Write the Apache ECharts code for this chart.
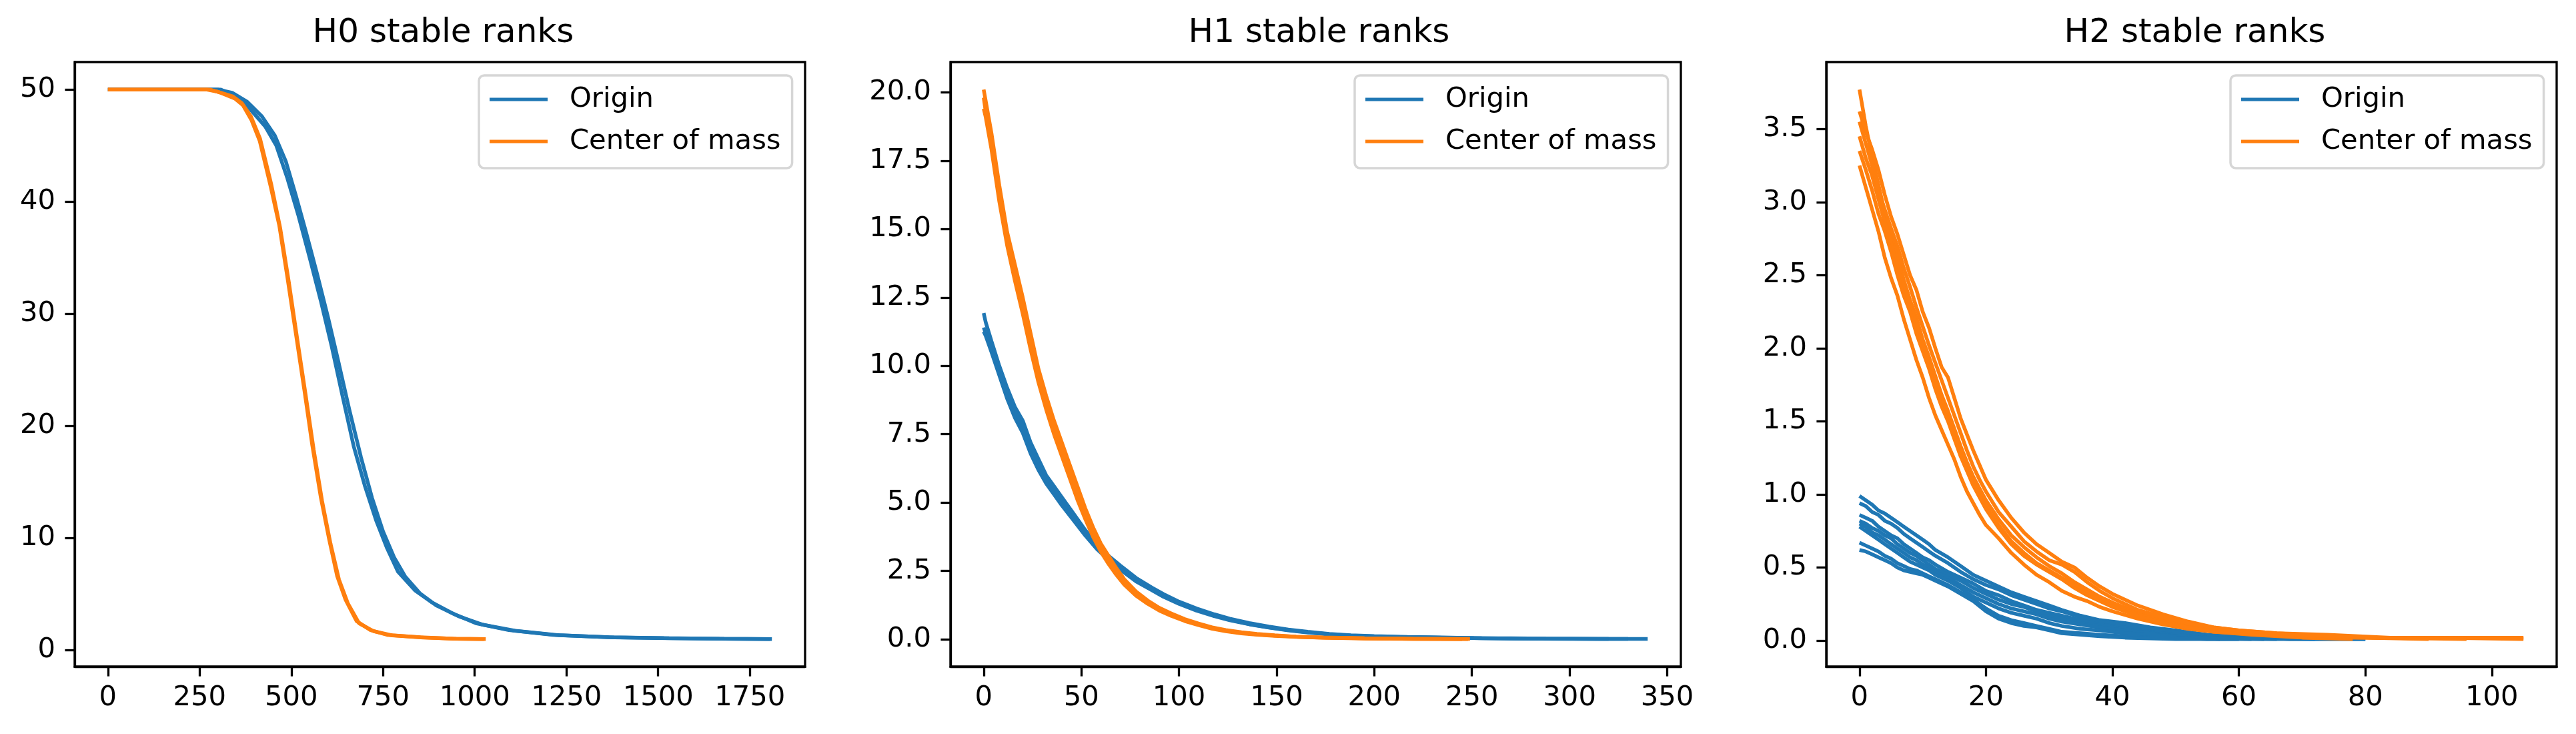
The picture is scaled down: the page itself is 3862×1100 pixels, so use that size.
<!DOCTYPE html>
<html>
<head>
<meta charset="utf-8">
<script src="https://cdn.jsdelivr.net/npm/echarts@6/dist/echarts.min.js"></script>
<style>
html,body{margin:0;padding:0;background:#fff;}
#chart{width:3862px;height:1100px;}
</style>
</head>
<body>
<div id="chart"></div>
<script>
// ---------- labels ----------
const panelTitles = ['H0 stable ranks', 'H1 stable ranks', 'H2 stable ranks'];
const seriesNames = ['Origin', 'Center of mass'];

// ---------- tick values ----------
const h0XTicks = [0, 250, 500, 750, 1000, 1250, 1500, 1750];
const h0YTicks = [0, 10, 20, 30, 40, 50];
const h1XTicks = [0, 50, 100, 150, 200, 250, 300, 350];
const h1YTicks = [0, 2.5, 5, 7.5, 10, 12.5, 15, 17.5, 20];
const h2XTicks = [0, 20, 40, 60, 80, 100];
const h2YTicks = [0, 0.5, 1, 1.5, 2, 2.5, 3, 3.5];

// ---------- H0 runs ----------
const h0Origin1 = [[0,50],[100,50],[200,50],[308,50],[346,49.4],[384,48.4],[429,46.7],[459,45.0],[489,42.1],[519,38.8],[550,35.0],[580,31.2],[610,27.1],[640,22.6],[670,18.2],[701,14.6],[731,11.6],[761,9.1],[791,7.0],[837,5.35],[882,4.3],[942,3.26],[1003,2.42],[1093,1.8],[1214,1.38],[1365,1.17],[1516,1.09],[1667,1.04],[1810,1.0]];
const h0Origin2 = [[0,50],[100,50],[200,50],[300,50],[340,49.7],[380,48.9],[420,47.6],[455,45.9],[485,43.6],[512,40.6],[540,37.3],[570,33.6],[600,29.7],[630,25.5],[660,21.2],[690,17.2],[720,13.6],[750,10.6],[780,8.3],[810,6.6],[850,5.1],[895,4.0],[955,3.05],[1020,2.3],[1110,1.75],[1230,1.35],[1380,1.15],[1530,1.08],[1680,1.03],[1805,1.0]];
const h0Mass1 = [[0,50],[100,50],[200,50],[278,50],[308,49.7],[346,49.2],[368,48.6],[391,47.3],[414,45.4],[444,41.3],[467,37.9],[489,33.3],[512,28.3],[535,23.3],[557,18.3],[580,13.7],[603,9.9],[625,6.6],[648,4.5],[678,2.6],[716,1.8],[761,1.38],[852,1.17],[942,1.04],[1030,1.0]];
const h0Mass2 = [[0,50],[150,50],[270,50],[300,49.8],[340,49.4],[365,48.8],[390,47.6],[415,45.6],[445,41.6],[470,37.6],[493,32.9],[516,27.8],[539,22.8],[561,17.9],[584,13.3],[607,9.5],[630,6.3],[654,4.2],[685,2.4],[725,1.7],[775,1.33],[860,1.14],[950,1.03],[1025,1.0]];

// ---------- H1 runs ----------
const h1Origin1 = [[0,11.93],[1,11.6],[4,10.9],[8,10.0],[12,9.2],[16,8.5],[20,8.0],[24,7.2],[28,6.6],[32,6.0],[36,5.6],[40,5.2],[46,4.6],[52,4.0],[58,3.5],[64,3.05],[70,2.7],[78,2.25],[86,1.9],[92,1.66],[100,1.38],[109,1.13],[118,0.92],[126,0.76],[136,0.6],[146,0.47],[156,0.36],[166,0.28],[177,0.2],[188,0.15],[200,0.12],[217,0.09],[235,0.07],[251,0.05],[270,0.04],[288,0.03],[315,0.02],[340,0.02]];
const h1Origin2 = [[0,11.4],[1,11.2],[4,10.6],[8,9.8],[12,9.0],[16,8.3],[20,7.8],[24,7.0],[28,6.4],[32,5.85],[36,5.45],[40,5.1],[46,4.5],[52,3.9],[58,3.4],[64,2.95],[70,2.6],[78,2.18],[86,1.84],[92,1.6],[100,1.33],[109,1.08],[118,0.88],[126,0.72],[136,0.56],[146,0.44],[156,0.34],[166,0.26],[177,0.19],[188,0.14],[200,0.11],[217,0.08],[235,0.06],[251,0.05],[270,0.03],[300,0.02],[330,0.02]];
const h1Origin3 = [[0,11.25],[1,11.1],[4,10.5],[8,9.65],[12,8.8],[16,8.1],[20,7.55],[24,6.8],[28,6.2],[32,5.7],[36,5.3],[40,4.9],[46,4.35],[52,3.8],[58,3.3],[64,2.9],[70,2.55],[78,2.12],[86,1.8],[92,1.56],[100,1.3],[109,1.05],[118,0.85],[126,0.7],[136,0.55],[146,0.43],[156,0.33],[166,0.25],[177,0.18],[188,0.13],[200,0.1],[217,0.08],[235,0.06],[255,0.04],[280,0.03],[320,0.02]];
const h1Mass1 = [[0,20.1],[1,19.7],[4,18.5],[8,16.6],[12,14.9],[16,13.7],[20,12.5],[24,11.2],[28,9.9],[32,8.9],[36,8.0],[40,7.2],[44,6.4],[48,5.6],[52,4.8],[56,4.1],[60,3.5],[64,3.05],[68,2.6],[72,2.2],[78,1.75],[84,1.42],[90,1.15],[96,0.95],[103,0.74],[110,0.58],[117,0.44],[124,0.34],[132,0.26],[140,0.2],[149,0.15],[160,0.1],[174,0.07],[195,0.04],[216,0.03],[249,0.02]];
const h1Mass2 = [[0,19.4],[1,19.1],[4,17.9],[8,16.0],[12,14.4],[16,13.1],[20,11.9],[24,10.6],[28,9.4],[32,8.4],[36,7.5],[40,6.7],[44,5.9],[48,5.1],[52,4.4],[56,3.75],[60,3.2],[64,2.75],[68,2.35],[72,2.0],[78,1.6],[84,1.3],[90,1.05],[96,0.86],[103,0.67],[110,0.52],[117,0.39],[124,0.3],[132,0.22],[140,0.17],[149,0.13],[160,0.09],[174,0.06],[195,0.03],[220,0.02],[245,0.01]];
const h1Mass3 = [[0,19.8],[1,19.3],[4,18.1],[8,16.3],[12,14.7],[16,13.5],[20,12.2],[24,11.0],[28,9.7],[32,8.7],[36,7.8],[40,7.0],[44,6.2],[48,5.4],[52,4.6],[56,3.95],[60,3.35],[64,2.9],[68,2.45],[72,2.1],[78,1.68],[84,1.36],[90,1.1],[96,0.9],[103,0.7],[110,0.55],[117,0.41],[124,0.32],[132,0.24],[140,0.18],[149,0.14],[160,0.1],[174,0.06],[195,0.04],[220,0.02],[248,0.01]];

// ---------- H2 runs ----------
const h2Origin1 = [[0,0.99],[1,0.96],[2,0.93],[3,0.89],[4,0.87],[5,0.84],[6,0.81],[7,0.78],[8,0.75],[9,0.72],[10,0.69],[11,0.66],[12,0.62],[14,0.57],[16,0.51],[18,0.45],[20,0.41],[22,0.37],[24,0.33],[26,0.3],[28,0.27],[30,0.24],[32,0.21],[35,0.17],[38,0.14],[42,0.12],[46,0.09],[50,0.07],[55,0.04],[60,0.03],[68,0.01],[80,0.01]];
const h2Origin2 = [[0,0.94],[1,0.92],[2,0.88],[3,0.86],[4,0.82],[5,0.8],[6,0.77],[7,0.73],[8,0.7],[9,0.67],[10,0.64],[11,0.61],[12,0.58],[14,0.53],[16,0.47],[18,0.42],[20,0.38],[22,0.35],[24,0.31],[26,0.28],[28,0.25],[30,0.22],[32,0.2],[35,0.16],[38,0.13],[42,0.11],[46,0.08],[50,0.06],[55,0.03],[60,0.02],[72,0.01]];
const h2Origin3 = [[0,0.86],[1,0.84],[2,0.82],[3,0.78],[4,0.75],[5,0.72],[6,0.7],[7,0.66],[8,0.63],[9,0.6],[10,0.57],[11,0.55],[12,0.52],[14,0.47],[16,0.43],[18,0.39],[20,0.34],[22,0.31],[24,0.27],[26,0.24],[28,0.21],[30,0.19],[32,0.17],[35,0.14],[38,0.11],[42,0.09],[46,0.06],[50,0.04],[55,0.02],[62,0.01]];
const h2Origin4 = [[0,0.82],[1,0.8],[2,0.77],[3,0.75],[4,0.72],[5,0.7],[6,0.66],[7,0.63],[8,0.6],[9,0.58],[10,0.55],[11,0.52],[12,0.49],[14,0.45],[16,0.41],[18,0.36],[20,0.32],[22,0.28],[24,0.25],[26,0.23],[28,0.2],[30,0.17],[32,0.15],[35,0.12],[38,0.1],[42,0.08],[46,0.05],[50,0.03],[55,0.02],[64,0.01]];
const h2Origin5 = [[0,0.8],[1,0.78],[2,0.74],[3,0.72],[4,0.69],[5,0.66],[6,0.63],[7,0.6],[8,0.57],[9,0.55],[10,0.52],[11,0.5],[12,0.47],[14,0.43],[16,0.38],[18,0.33],[20,0.29],[22,0.25],[24,0.22],[26,0.2],[28,0.18],[30,0.15],[32,0.13],[35,0.11],[38,0.09],[42,0.07],[46,0.05],[50,0.03],[55,0.02],[66,0.01]];
const h2Origin6 = [[0,0.78],[1,0.75],[2,0.72],[3,0.69],[4,0.66],[5,0.63],[6,0.6],[7,0.57],[8,0.54],[9,0.52],[10,0.5],[11,0.48],[12,0.45],[14,0.41],[16,0.36],[18,0.3],[20,0.26],[22,0.22],[24,0.19],[26,0.17],[28,0.15],[30,0.12],[32,0.1],[35,0.08],[38,0.07],[42,0.05],[46,0.04],[50,0.03],[57,0.01]];
const h2Origin7 = [[0,0.67],[1,0.65],[2,0.63],[3,0.61],[4,0.58],[5,0.56],[6,0.53],[7,0.51],[8,0.49],[9,0.48],[10,0.46],[11,0.44],[12,0.42],[14,0.38],[16,0.33],[18,0.28],[20,0.22],[22,0.17],[24,0.14],[26,0.12],[28,0.1],[30,0.08],[32,0.06],[35,0.05],[38,0.04],[42,0.03],[46,0.02],[50,0.02],[55,0.01],[60,0.01]];
const h2Origin8 = [[0,0.62],[1,0.61],[2,0.59],[3,0.57],[4,0.55],[5,0.53],[6,0.5],[7,0.48],[8,0.47],[9,0.46],[10,0.45],[11,0.43],[12,0.41],[14,0.37],[16,0.32],[18,0.27],[20,0.2],[22,0.15],[24,0.12],[26,0.1],[28,0.09],[30,0.07],[32,0.05],[35,0.04],[38,0.03],[42,0.02],[46,0.015],[50,0.01],[55,0.01],[62,0.01],[80,0.01]];
const h2Mass1 = [[0,3.77],[1,3.52],[2,3.31],[3,3.12],[4,2.93],[5,2.78],[6,2.63],[7,2.47],[8,2.33],[9,2.21],[10,2.06],[11,1.94],[12,1.81],[13,1.68],[14,1.57],[15,1.45],[16,1.33],[17,1.22],[18,1.12],[19,1.04],[20,0.96],[22,0.83],[24,0.72],[26,0.64],[28,0.57],[30,0.51],[32,0.46],[34,0.4],[36,0.35],[38,0.3],[40,0.26],[44,0.19],[48,0.14],[52,0.1],[56,0.07],[60,0.05],[66,0.04],[74,0.03],[82,0.02],[92,0.02],[105,0.01]];
const h2Mass2 = [[0,3.62],[1,3.48],[2,3.36],[3,3.22],[4,3.05],[5,2.9],[6,2.78],[7,2.64],[8,2.5],[9,2.4],[10,2.25],[11,2.14],[12,2.0],[13,1.87],[14,1.8],[15,1.66],[16,1.52],[17,1.41],[18,1.3],[19,1.2],[20,1.1],[22,0.96],[24,0.84],[26,0.74],[28,0.66],[30,0.6],[32,0.54],[34,0.5],[36,0.43],[38,0.37],[40,0.32],[44,0.24],[48,0.18],[52,0.13],[56,0.09],[60,0.07],[66,0.05],[74,0.04],[84,0.02],[95,0.02],[105,0.02]];
const h2Mass3 = [[0,3.25],[1,3.1],[2,2.95],[3,2.8],[4,2.62],[5,2.48],[6,2.36],[7,2.2],[8,2.06],[9,1.92],[10,1.8],[11,1.66],[12,1.54],[13,1.44],[14,1.34],[15,1.24],[16,1.12],[17,1.02],[18,0.94],[19,0.86],[20,0.79],[22,0.7],[24,0.6],[26,0.52],[28,0.45],[30,0.4],[32,0.34],[34,0.3],[36,0.27],[38,0.23],[40,0.2],[44,0.15],[48,0.11],[52,0.08],[56,0.06],[62,0.04],[70,0.02],[78,0.01]];
const h2Mass4 = [[0,3.45],[1,3.3],[2,3.18],[3,3.02],[4,2.86],[5,2.72],[6,2.55],[7,2.42],[8,2.3],[9,2.16],[10,2.02],[11,1.9],[12,1.78],[13,1.64],[14,1.52],[15,1.4],[16,1.3],[17,1.19],[18,1.08],[19,1.0],[20,0.92],[22,0.79],[24,0.68],[26,0.6],[28,0.53],[30,0.48],[32,0.43],[34,0.38],[36,0.33],[38,0.28],[40,0.24],[44,0.18],[48,0.13],[52,0.09],[56,0.07],[60,0.05],[68,0.03],[76,0.02],[88,0.02]];
const h2Mass5 = [[0,3.35],[1,3.22],[2,3.08],[3,2.92],[4,2.8],[5,2.66],[6,2.5],[7,2.36],[8,2.25],[9,2.1],[10,1.98],[11,1.86],[12,1.72],[13,1.6],[14,1.5],[15,1.38],[16,1.26],[17,1.16],[18,1.06],[19,0.98],[20,0.9],[22,0.77],[24,0.66],[26,0.58],[28,0.52],[30,0.47],[32,0.42],[34,0.36],[36,0.31],[38,0.27],[40,0.23],[44,0.17],[48,0.12],[52,0.09],[56,0.06],[60,0.05],[66,0.04],[72,0.03],[80,0.02],[90,0.01]];
const h2Mass6 = [[0,3.55],[1,3.4],[2,3.25],[3,3.08],[4,2.95],[5,2.82],[6,2.7],[7,2.55],[8,2.42],[9,2.28],[10,2.15],[11,2.02],[12,1.9],[13,1.78],[14,1.66],[15,1.54],[16,1.42],[17,1.3],[18,1.19],[19,1.1],[20,1.02],[22,0.88],[24,0.78],[26,0.68],[28,0.61],[30,0.55],[32,0.52],[34,0.47],[36,0.4],[38,0.34],[40,0.29],[44,0.21],[48,0.16],[52,0.12],[56,0.09],[60,0.07],[66,0.05],[74,0.03],[82,0.02],[96,0.01]];

// ---------- grouping ----------
const panels = [
  { origin: [h0Origin1, h0Origin2], mass: [h0Mass1, h0Mass2], xTicks: h0XTicks, yTicks: h0YTicks, yDigits: 0 },
  { origin: [h1Origin1, h1Origin2, h1Origin3], mass: [h1Mass1, h1Mass2, h1Mass3], xTicks: h1XTicks, yTicks: h1YTicks, yDigits: 1 },
  { origin: [h2Origin1, h2Origin2, h2Origin3, h2Origin4, h2Origin5, h2Origin6, h2Origin7, h2Origin8],
    mass: [h2Mass1, h2Mass2, h2Mass3, h2Mass4, h2Mass5, h2Mass6], xTicks: h2XTicks, yTicks: h2YTicks, yDigits: 1 }
];

// ---------- style ----------
const BLUE = '#1f77b4', ORANGE = '#ff7f0e';
const FONT = 'DejaVu Sans';
const TICK_FS = 41.7, TITLE_FS = 50;
const SPINE = 3.3, LW = 5.5;
const GRID_LEFTS = [112, 1425, 2738];
const GRID_TOP = 93, GRID_W = 1095, GRID_H = 906;

function padRange(runs) {
  let xmin = Infinity, xmax = -Infinity, ymin = Infinity, ymax = -Infinity;
  runs.forEach(r => r.forEach(p => {
    xmin = Math.min(xmin, p[0]); xmax = Math.max(xmax, p[0]);
    ymin = Math.min(ymin, p[1]); ymax = Math.max(ymax, p[1]);
  }));
  const dx = (xmax - xmin) * 0.05, dy = (ymax - ymin) * 0.05;
  return { xmin: xmin - dx, xmax: xmax + dx, ymin: ymin - dy, ymax: ymax + dy };
}

const grids = [], xAxes = [], yAxes = [], series = [], titles = [], legends = [];
const legendIcon = 'path://M0,0H87V5H0Z M115,2.49h0.01v0.02h-0.01Z';

panels.forEach((p, i) => {
  const r = padRange(p.origin.concat(p.mass));
  grids.push({ left: GRID_LEFTS[i], top: GRID_TOP, width: GRID_W, height: GRID_H,
    show: true, borderColor: '#000', borderWidth: SPINE, backgroundColor: 'transparent', containLabel: false });
  const axisCommon = {
    axisLine: { show: true, onZero: false, lineStyle: { color: '#000', width: SPINE } },
    axisTick: { show: true, inside: false, length: 14.6, lineStyle: { color: '#000', width: SPINE } },
    splitLine: { show: false }
  };
  xAxes.push(Object.assign({}, axisCommon, {
    type: 'value', gridIndex: i, min: r.xmin, max: r.xmax,
    axisTick: Object.assign({}, axisCommon.axisTick, { customValues: p.xTicks }),
    axisLabel: { show: true, customValues: p.xTicks, margin: 26, color: '#000', fontFamily: FONT, fontSize: TICK_FS,
      formatter: v => String(v) }
  }));
  yAxes.push(Object.assign({}, axisCommon, {
    type: 'value', gridIndex: i, min: r.ymin, max: r.ymax,
    axisTick: Object.assign({}, axisCommon.axisTick, { customValues: p.yTicks }),
    axisLabel: { show: true, customValues: p.yTicks, margin: 29, color: '#000', fontFamily: FONT, fontSize: TICK_FS,
      formatter: v => Number(v).toFixed(p.yDigits) }
  }));
  const mk = (run, name, color) => ({
    type: 'line', name: name, data: run, xAxisIndex: i, yAxisIndex: i,
    symbol: 'none', showSymbol: false, smooth: false, silent: true, animation: false,
    color: color, itemStyle: { color: color }, lineStyle: { color: color, width: LW }
  });
  p.origin.forEach(run => series.push(mk(run, seriesNames[0], BLUE)));
  p.mass.forEach(run => series.push(mk(run, seriesNames[1], ORANGE)));
  titles.push({ text: panelTitles[i], left: GRID_LEFTS[i] + GRID_W / 2, top: 20, textAlign: 'center',
    textStyle: { fontFamily: FONT, fontSize: TITLE_FS, fontWeight: 'normal', color: '#000' } });
  legends.push({
    data: seriesNames.slice(), orient: 'vertical',
    left: GRID_LEFTS[i] + GRID_W - 20 - 469, top: GRID_TOP + 20,
    icon: legendIcon, itemWidth: 115, itemHeight: 5, itemGap: 15,
    padding: [12, 17, 16, 16],
    backgroundColor: 'rgba(255,255,255,0.8)', borderColor: '#d6d6d6', borderWidth: 3.5, borderRadius: 8,
    itemStyle: { borderWidth: 0 },
    textStyle: { fontFamily: FONT, fontSize: TICK_FS, color: '#000', lineHeight: 48 },
    selectedMode: false
  });
});

const chart = echarts.init(document.getElementById('chart'), null, { renderer: 'canvas' });
chart.setOption({
  backgroundColor: '#fff',
  animation: false,
  title: titles,
  legend: legends,
  grid: grids,
  xAxis: xAxes,
  yAxis: yAxes,
  series: series
});
</script>
</body>
</html>
